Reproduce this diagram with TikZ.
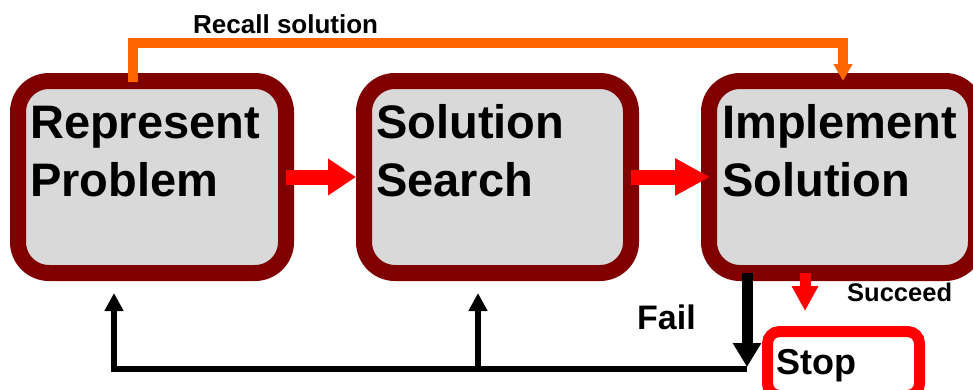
\documentclass[tikz,border=0pt]{standalone}
\usepackage{fontspec}
\usetikzlibrary{arrows.meta}
\newfontfamily\hv{Liberation Sans}
\definecolor{boxred}{HTML}{800000}
\definecolor{boxgray}{HTML}{D9D9D9}
\definecolor{recall}{HTML}{FF6600}
\definecolor{bright}{HTML}{FF0000}
\tikzset{
  stagebox/.style={draw=boxred, fill=boxgray, line width=16pt, rounded corners=31pt,
    minimum height=192pt, inner sep=0pt, outer sep=0pt},
  bigtxt/.style={anchor=base west, inner sep=0pt, font=\hv\bfseries\fontsize{47}{56}\selectfont},
  midtxt/.style={anchor=base west, inner sep=0pt, font=\hv\bfseries\fontsize{26}{30}\selectfont},
  recallline/.style={draw=recall, line width=10pt, -{Triangle[width=18pt,length=17pt]}},
  fbline/.style={draw=black, line width=5.5pt, -{Triangle[width=18pt,length=18pt]}},
}
\begin{document}
\begin{tikzpicture}[x=1pt,y=-1pt]
\useasboundingbox (0,0) rectangle (973,389);
\clip (0,0) rectangle (973,389);

% stage boxes
\node[stagebox, minimum width=268pt] (b1) at (152,177) {};
\node[stagebox, minimum width=267pt] (b2) at (497.5,177) {};
\node[stagebox, minimum width=267pt] (b3) at (842.5,177) {};

% stop box
\node[draw=bright, fill=white, line width=11pt, rounded corners=12pt,
      minimum width=152pt, minimum height=64pt, inner sep=0pt, outer sep=0pt] (stop) at (843.5,363.5) {};

% texts
\node[bigtxt] (t1a) at (30,138) {Represent};
\node[bigtxt] (t1b) at (30,196) {Problem};
\node[bigtxt] (t2a) at (376,138) {Solution};
\node[bigtxt] (t2b) at (376,196) {Search};
\node[bigtxt] (t3a) at (722,138) {Implement};
\node[bigtxt] (t3b) at (722,196) {Solution};
\node[anchor=base west, inner sep=0pt, font=\hv\bfseries\fontsize{36}{40}\selectfont] (stoptxt) at (776,374) {Stop};
\node[midtxt] (recalltxt) at (193,33) {Recall solution};
\node[anchor=base west, inner sep=0pt, font=\hv\bfseries\fontsize{34}{40}\selectfont] (failtxt) at (637,329) {Fail};
\node[anchor=base west, inner sep=0pt, font=\hv\bfseries\fontsize{25.5}{30}\selectfont] (succtxt) at (847,301) {Succeed};

% recall connector
\coordinate (rc) at (133,43);
\draw[recallline] ([xshift=-19pt,yshift=-1pt]b1.north) |- (rc) -| ([xshift=0.5pt]b3.north);

% forward arrows
\draw[draw=bright, line width=15pt, -{Triangle[width=35pt,length=28pt]}] (b1.east) -- ([xshift=-8pt]b2.west);
\draw[draw=bright, line width=15pt, -{Triangle[width=35pt,length=35pt]}] (b2.east) -- ([xshift=1pt]b3.west);

% succeed arrow
\coordinate (sc) at (805,311);
\draw[draw=bright, line width=11pt, -{Triangle[width=25pt,length=25pt]}] ([xshift=-37.5pt]b3.south) -- (sc);

% fail feedback
\coordinate (c0) at (747,369);
\coordinate (f0) at (747,367);
\coordinate (u1) at (114,293);
\coordinate (u2) at (478,293);
\draw[fbline] (c0) -| (u1);
\draw[fbline] (c0) -| (u2);
\draw[draw=black, line width=11pt, -{Triangle[width=27pt,length=24pt]}] ([xshift=-95.5pt]b3.south) -- (f0);
\end{tikzpicture}
\end{document}
